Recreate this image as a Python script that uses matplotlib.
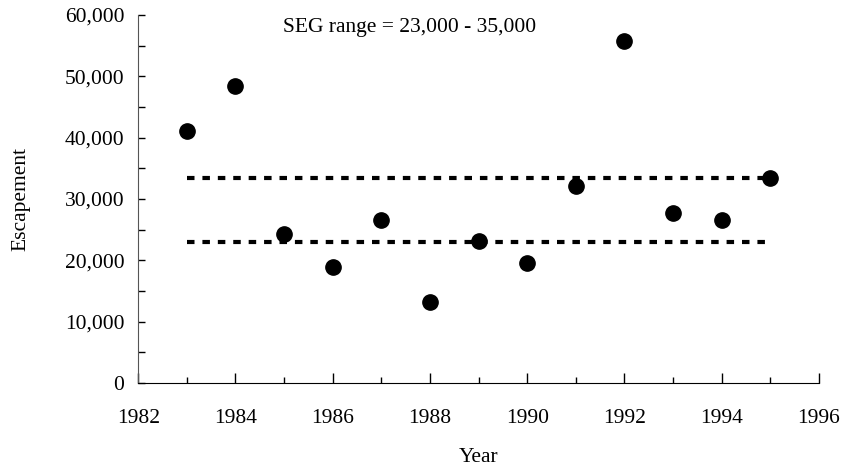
import matplotlib
matplotlib.use('Agg')
import matplotlib.pyplot as plt
from matplotlib.ticker import MultipleLocator, FuncFormatter

plt.rcParams['font.family'] = 'Liberation Serif'

# escapement by year
years = [1983, 1984, 1985, 1986, 1987, 1988, 1989, 1990, 1991, 1992, 1993, 1994, 1995]
escapement = [41100, 48400, 24300, 18900, 26500, 13200, 23200, 19600, 32100, 55800, 27700, 26500, 33400]
# SEG bounds as drawn
seg_low = 23000
seg_high = 33400
seg_years = [1983, 1995]

fig = plt.figure(figsize=(8.43, 4.68), dpi=100)
ax = fig.add_axes([0.164, 0.1816, 0.8075, 0.7864])

ax.plot(seg_years, [seg_high, seg_high], color='black', lw=3, linestyle=(0, (1.8, 1.9)))
ax.plot(seg_years, [seg_low, seg_low], color='black', lw=3, linestyle=(0, (1.8, 1.9)))
ax.plot(years, escapement, 'o', color='black', markersize=11, zorder=3)

ax.text(1987.58, 58000, 'SEG range = 23,000 - 35,000', ha='center', va='center', fontsize=15.5)

ax.set_xlim(1982, 1996)
ax.set_ylim(0, 60000)
ax.xaxis.set_major_locator(MultipleLocator(2))
ax.xaxis.set_minor_locator(MultipleLocator(1))
ax.yaxis.set_major_locator(MultipleLocator(10000))
ax.yaxis.set_minor_locator(MultipleLocator(5000))
ax.yaxis.set_major_formatter(FuncFormatter(lambda v, p: '{:,.0f}'.format(v)))

for s in ['top', 'right']:
    ax.spines[s].set_visible(False)
ax.spines['left'].set_color('#555555')
ax.tick_params(which='both', direction='in', labelsize=15.5, width=1)
ax.tick_params(axis='x', which='major', length=7, pad=19)
ax.tick_params(axis='x', which='minor', length=4)
ax.tick_params(axis='y', which='both', length=5, pad=10)

ax.set_xlabel('Year', fontsize=15.5, labelpad=14)
ax.set_ylabel('Escapement', fontsize=15.5, labelpad=25)

fig.savefig('out.png', dpi=100)
